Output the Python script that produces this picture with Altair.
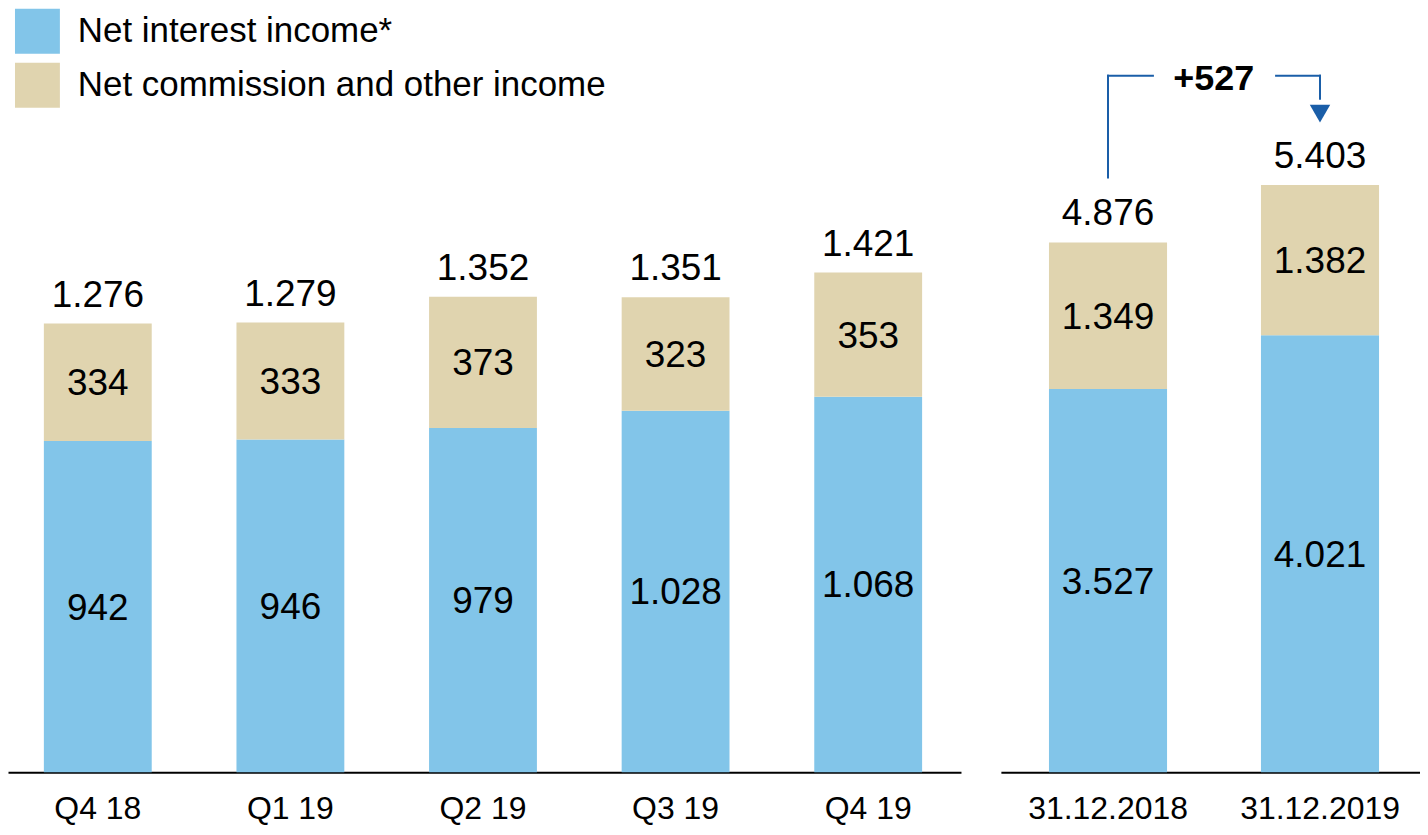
import altair as alt
import pandas as pd

# ---- data ----
series = ["Net interest income*", "Net commission and other income"]
colors = ["#82C5E9", "#E0D4AF"]

quarters = ["Q4 18", "Q1 19", "Q2 19", "Q3 19", "Q4 19"]
nii_q = [942, 946, 979, 1028, 1068]
comm_q = [334, 333, 373, 323, 353]
total_q = [1276, 1279, 1352, 1351, 1421]

years = ["31.12.2018", "31.12.2019"]
nii_y = [3527, 4021]
comm_y = [1349, 1382]
total_y = [4876, 5403]

# annotation levels (data units of the yearly panel)
ann_top = 6410
ann_left_bottom = 5473
ann_right_bottom = 6198
ann_arrow = 6060
ann_text = 6382

FONT = "Liberation Sans"
LINE = "#1A5EA8"


def fmt(v):
    return f"{v:,}".replace(",", ".")


def seg_df(cats, nii, comm):
    rows = []
    for c, a, b in zip(cats, nii, comm):
        rows.append(dict(cat=c, series=series[0], y0=0, y1=a, mid=a / 2, label=fmt(a)))
        rows.append(dict(cat=c, series=series[1], y0=a, y1=a + b, mid=a + b / 2, label=fmt(b)))
    return pd.DataFrame(rows)


def panel(cats, nii, comm, tot, ymax, width, pin, pout, align, extra=None):
    seg = seg_df(cats, nii, comm)
    tdf = pd.DataFrame(dict(cat=cats, total=tot, label=[fmt(t) for t in tot]))
    xscale = alt.Scale(domain=cats, paddingInner=pin, paddingOuter=pout, align=align)
    x = alt.X("cat:N", sort=cats, scale=xscale,
              axis=alt.Axis(title=None, labelAngle=0, ticks=False, domainColor="black",
                            domainWidth=2, labelFontSize=32, labelFont=FONT,
                            labelColor="black", labelPadding=21, grid=False))
    yscale = alt.Scale(domain=[0, ymax], nice=False, zero=True)
    bars = alt.Chart(seg).mark_bar().encode(
        x=x,
        y=alt.Y("y0:Q", scale=yscale, axis=None),
        y2="y1:Q",
        color=alt.Color("series:N", scale=alt.Scale(domain=series, range=colors),
                        legend=alt.Legend(orient="none", legendX=7, legendY=0, title=None,
                                          symbolType="square", symbolSize=2025,
                                          symbolStrokeWidth=0, symbolOpacity=1,
                                          labelFontSize=35, labelFont=FONT,
                                          labelColor="black", labelOffset=18,
                                          rowPadding=9, padding=0, direction="vertical",
                                          labelLimit=800)),
    )
    segtext = alt.Chart(seg).mark_text(fontSize=37, font=FONT, baseline="middle",
                                       color="black", dy=2).encode(
        x=alt.X("cat:N", sort=cats, scale=xscale),
        y=alt.Y("mid:Q", scale=yscale, axis=None),
        text="label:N",
    )
    tottext = alt.Chart(tdf).mark_text(fontSize=37, font=FONT, baseline="alphabetic",
                                       color="black", dy=-17).encode(
        x=alt.X("cat:N", sort=cats, scale=xscale),
        y=alt.Y("total:Q", scale=yscale, axis=None),
        text="label:N",
    )
    layers = [bars, segtext, tottext]
    if extra:
        layers += extra(cats, xscale, yscale)
    return alt.layer(*layers).properties(width=width, height=765)


def annotation(cats, xscale, yscale):
    xs = lambda: alt.X("cat:N", sort=cats, scale=xscale)
    v1 = alt.Chart(pd.DataFrame(dict(cat=[cats[0]], y=[ann_left_bottom], y2=[ann_top]))).mark_rule(
        color=LINE, strokeWidth=2, strokeCap="square").encode(
        x=xs(), y=alt.Y("y:Q", scale=yscale, axis=None), y2="y2:Q")
    h1 = alt.Chart(pd.DataFrame(dict(cat=[cats[0]], y=[ann_top]))).mark_rule(
        color=LINE, strokeWidth=2, strokeCap="square", x2Offset=45).encode(
        x=xs(), x2=alt.X2("cat:N"), y=alt.Y("y:Q", scale=yscale, axis=None))
    h2 = alt.Chart(pd.DataFrame(dict(cat=[cats[1]], y=[ann_top]))).mark_rule(
        color=LINE, strokeWidth=2, strokeCap="square", xOffset=-44).encode(
        x=xs(), x2=alt.X2("cat:N"), y=alt.Y("y:Q", scale=yscale, axis=None))
    v2 = alt.Chart(pd.DataFrame(dict(cat=[cats[1]], y=[ann_right_bottom], y2=[ann_top]))).mark_rule(
        color=LINE, strokeWidth=2, strokeCap="square").encode(
        x=xs(), y=alt.Y("y:Q", scale=yscale, axis=None), y2="y2:Q")
    tri = alt.Chart(pd.DataFrame(dict(cat=[cats[1]], y=[ann_arrow]))).mark_point(
        shape="triangle-down", filled=True, size=420, color=LINE, opacity=1).encode(
        x=xs(), y=alt.Y("y:Q", scale=yscale, axis=None))
    delta = total_y[1] - total_y[0]
    txt = alt.Chart(pd.DataFrame(dict(cat=[cats[0]], y=[ann_text], t=[f"+{delta}"]))).mark_text(
        fontSize=36, font=FONT, fontWeight="bold", color="black", baseline="middle",
        xOffset=106).encode(
        x=xs(), y=alt.Y("y:Q", scale=yscale, axis=None), text="t:N")
    return [v1, h1, h2, v2, tri, txt]


left = panel(quarters, nii_q, comm_q, total_q, 2171, 955, 0.44, 0.194, 0.48)
right = panel(years, nii_y, comm_y, total_y, 7025, 420, 0.443, 0.21, 0.54, extra=annotation)

chart = alt.hconcat(left, right, spacing=40).properties(padding=0).configure(
    font=FONT).configure_view(stroke=None, strokeWidth=0)

chart.save("out.html", embed_options={"renderer": "svg", "actions": False})
